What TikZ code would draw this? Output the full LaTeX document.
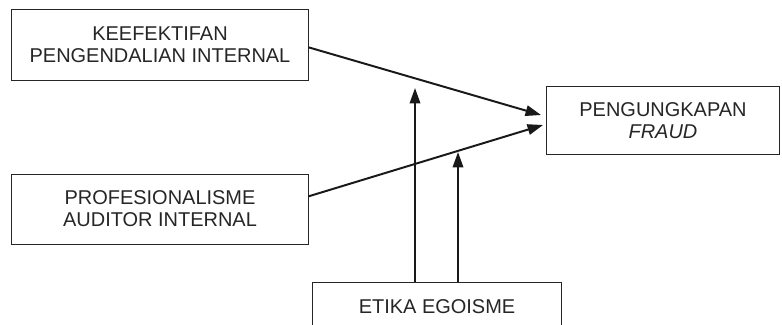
\documentclass[tikz,border=0pt]{standalone}
\usepackage{fontspec}
\setmainfont{Liberation Sans}
\usetikzlibrary{arrows.meta}
\begin{document}
\begin{tikzpicture}[x=0.025cm, y=-0.025cm]
\tikzstyle{varbox} = [rectangle, draw=black!85, line width=0.7pt, align=center, inner sep=0pt, font=\fontsize{14.2}{15.8}\selectfont, text=black!85]
\tikzstyle{link}   = [-{Triangle[length=11pt, width=7.5pt]}, line width=1.4pt, black!90]
\useasboundingbox (0,0) rectangle (782,324);
\node[varbox, minimum width=7.40cm, minimum height=1.775cm] at (160, 44.5) (k) {KEEFEKTIFAN\\PENGENDALIAN INTERNAL};
\node[varbox, minimum width=7.40cm, minimum height=1.750cm] at (160, 209) (p) {PROFESIONALISME\\AUDITOR INTERNAL};
\node[varbox, minimum width=5.80cm, minimum height=1.700cm] at (663, 120.5) (f) {PENGUNGKAPAN\\\textit{FRAUD}};
\node[varbox, minimum width=6.20cm, minimum height=1.750cm, anchor=north] at (437, 282) (e) {};
\node at (e.north) [below=0.43cm, font=\fontsize{14.2}{15.8}\selectfont, text=black!85, inner sep=0pt] (e_t) {ETIKA EGOISME};
\coordinate (t_k) at (541, 115);
\coordinate (t_p) at (543, 125);
\coordinate (v_k) at (415, 88);
\coordinate (v_p) at (458, 152);
\draw[link] ([yshift=-2pt]k.east) -- (t_k);
\draw[link] ([yshift=9pt]p.east) -- (t_p);
\draw[link] (e.north -| v_k) -- (v_k);
\draw[link] (e.north -| v_p) -- (v_p);
\end{tikzpicture}
\end{document}
